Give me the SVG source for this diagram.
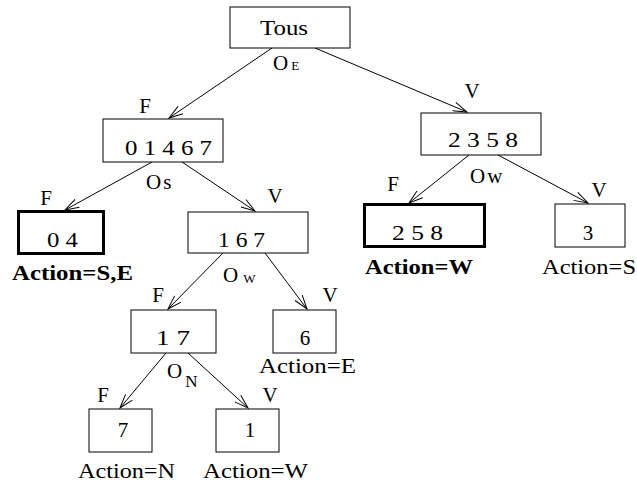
<svg xmlns="http://www.w3.org/2000/svg" width="637" height="484" viewBox="0 0 637 484">
  <style>
    .box { fill: #fff; stroke: #000; stroke-width: 1; }
    .leaf { fill: #fff; stroke: #000; stroke-width: 3; }
    text { font-family: 'Liberation Serif', 'Times New Roman', Times, Tinos, 'Nimbus Roman', 'DejaVu Serif', 'Noto Serif', serif; font-size: 21px; fill: #000; }
    .mid { text-anchor: middle; }
    .b { font-weight: bold; }
    .sub { font-size: 13px; }
    .edge { stroke: #000; stroke-width: 1; fill: none; marker-end: url(#open); }
  </style>
  <defs>
    <marker id="open" markerUnits="userSpaceOnUse" viewBox="0 0 16 10" markerWidth="16" markerHeight="10" refX="15" refY="5" orient="auto">
      <path d="M1,0.5 L15,5 L1,9.5" fill="none" stroke="#000" stroke-width="1"/>
    </marker>
  </defs>

  <rect width="637" height="484" fill="#fff"/>

  <!-- connectors -->
  <g id="connectors">
    <line class="edge" x1="272" y1="48" x2="169" y2="118"/>
    <line class="edge" x1="315" y1="48" x2="467" y2="112"/>
    <line class="edge" x1="152" y1="162" x2="65" y2="210"/>
    <line class="edge" x1="182" y1="162" x2="255" y2="211"/>
    <line class="edge" x1="469" y1="155" x2="409" y2="203"/>
    <line class="edge" x1="498" y1="155" x2="588" y2="203"/>
    <line class="edge" x1="223" y1="253" x2="168" y2="309"/>
    <line class="edge" x1="265" y1="253" x2="307" y2="309"/>
    <line class="edge" x1="166" y1="353" x2="120" y2="408"/>
    <line class="edge" x1="188" y1="353" x2="248" y2="408"/>
  </g>

  <!-- edge and test labels -->
  <g id="labels">
    <text class="mid" x="145" y="113">F</text>
    <text class="mid" x="472" y="98">V</text>
    <text x="273" y="70">O<tspan class="sub" dx="3">E</tspan></text>
    <text class="mid" x="46" y="205">F</text>
    <text class="mid" x="275" y="203">V</text>
    <text x="146" y="189">O<tspan dx="2">s</tspan></text>
    <text class="mid" x="393" y="191">F</text>
    <text class="mid" x="599" y="197">V</text>
    <text x="470" y="183">O<tspan dx="2">w</tspan></text>
    <text class="mid" x="158" y="302">F</text>
    <text class="mid" x="330" y="302">V</text>
    <text x="223" y="282">O<tspan class="sub" dx="5" dy="1">W</tspan></text>
    <text class="mid" x="103" y="402">F</text>
    <text class="mid" x="270" y="402">V</text>
    <text x="167" y="378">O<tspan style="font-size:17px" dx="3" dy="9">N</tspan></text>
  </g>

  <g id="tous">
    <rect class="box" x="230" y="7" width="120" height="41"/>
    <text x="260" y="35" textLength="48" lengthAdjust="spacingAndGlyphs">Tous</text>
  </g>

  <g id="n01467">
    <rect class="box" x="103" y="119" width="120" height="43"/>
    <text x="125" y="155" textLength="87" lengthAdjust="spacingAndGlyphs">0 1 4 6 7</text>
  </g>

  <g id="n2358">
    <rect class="box" x="421" y="113" width="120" height="42"/>
    <text x="448" y="147" textLength="70" lengthAdjust="spacingAndGlyphs">2 3 5 8</text>
  </g>

  <g id="n04">
    <rect class="leaf" x="18.5" y="211.5" width="85" height="42"/>
    <text x="47" y="247" textLength="31" lengthAdjust="spacingAndGlyphs">0 4</text>
    <text class="b" x="12" y="280" textLength="121" lengthAdjust="spacingAndGlyphs">Action=S,E</text>
  </g>

  <g id="n167">
    <rect class="box" x="188" y="212" width="120" height="41"/>
    <text x="218" y="247" textLength="47" lengthAdjust="spacingAndGlyphs">1 6 7</text>
  </g>

  <g id="n258">
    <rect class="leaf" x="364.5" y="204.5" width="120" height="42"/>
    <text x="392" y="240" textLength="51" lengthAdjust="spacingAndGlyphs">2 5 8</text>
    <text class="b" x="365" y="274" textLength="108" lengthAdjust="spacingAndGlyphs">Action=W</text>
  </g>

  <g id="n3">
    <rect class="box" x="555" y="204" width="70" height="43"/>
    <text class="mid" x="588" y="240">3</text>
    <text x="542" y="274" textLength="94" lengthAdjust="spacingAndGlyphs">Action=S</text>
  </g>

  <g id="n17">
    <rect class="box" x="131" y="310" width="85" height="43"/>
    <text x="156" y="345" textLength="34" lengthAdjust="spacingAndGlyphs">1 7</text>
  </g>

  <g id="n6">
    <rect class="box" x="273" y="310" width="63" height="43"/>
    <text class="mid" x="305" y="345">6</text>
    <text x="259" y="373" textLength="97" lengthAdjust="spacingAndGlyphs">Action=E</text>
  </g>

  <g id="n7">
    <rect class="box" x="89" y="409" width="63" height="43"/>
    <text class="mid" x="123" y="437">7</text>
    <text x="78" y="478" textLength="97" lengthAdjust="spacingAndGlyphs">Action=N</text>
  </g>

  <g id="n1">
    <rect class="box" x="216" y="409" width="63" height="43"/>
    <text class="mid" x="250" y="437">1</text>
    <text x="203" y="478" textLength="105" lengthAdjust="spacingAndGlyphs">Action=W</text>
  </g>
</svg>
